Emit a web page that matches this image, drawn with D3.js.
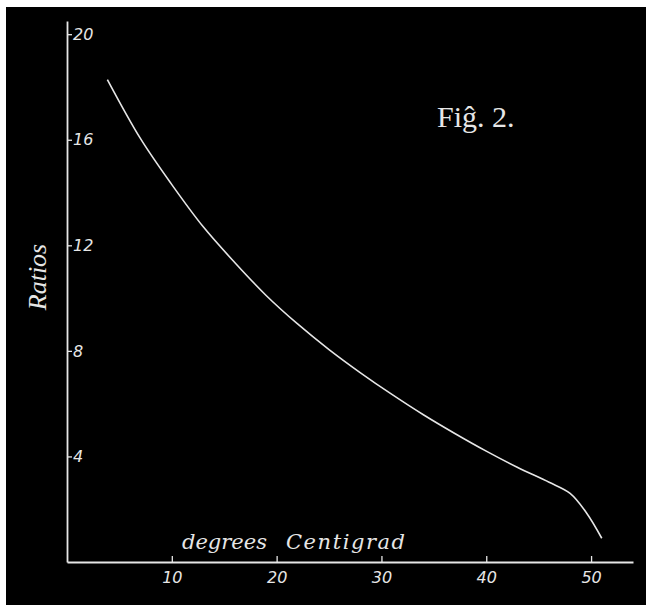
<!DOCTYPE html>
<html>
<head>
<meta charset="utf-8">
<script src="https://cdn.jsdelivr.net/npm/d3@7"></script>
<style>
  body { margin: 0; background: #fff; }
  svg { display: block; }
</style>
</head>
<body>
<script>
// Temperature (deg C) vs ratio
var temps  = [3.85, 7, 10, 13, 16, 19, 22, 25, 28, 31, 34, 37, 40, 43, 46, 48, 49.6, 51.02];
var ratios = [18.28, 16.05, 14.3, 12.7, 11.35, 10.1, 9.02, 8.05, 7.17, 6.35, 5.58, 4.87, 4.2, 3.58, 3.02, 2.6, 1.84, 0.9];

var xTicks = [10, 20, 30, 40, 50];
var yTicks = [4, 8, 12, 16, 20];

var w = 646, h = 605;

var svg = d3.select("body").append("svg")
    .attr("width", w)
    .attr("height", h);

// black plate, thin white margin top/left
svg.append("rect")
    .attr("x", 6).attr("y", 7)
    .attr("width", w - 6).attr("height", h - 7)
    .attr("fill", "#000");

var x = d3.scaleLinear().domain([0, 54]).range([67, 633]);
var y = d3.scaleLinear().domain([0, 20.5]).range([562, 21]);

var ink = "#e6e6e6";

// x axis, ticks pointing up
var xAxis = svg.append("g")
    .attr("transform", "translate(0," + y(0) + ")")
    .call(d3.axisBottom(x).tickValues(xTicks).tickSize(-6).tickSizeOuter(0).tickPadding(10));

// y axis, ticks pointing in
var yAxis = svg.append("g")
    .attr("transform", "translate(" + x(0) + ",0)")
    .call(d3.axisRight(y).tickValues(yTicks).tickSize(5).tickSizeOuter(0).tickPadding(1));

[xAxis, yAxis].forEach(function(g) {
  g.attr("font-family", "DejaVu Sans").attr("font-size", 16);
  g.select(".domain").attr("stroke", ink).attr("stroke-width", 1.8);
  g.selectAll(".tick line").attr("stroke", ink).attr("stroke-width", 1.3);
  g.selectAll(".tick text")
      .attr("fill", ink)
      .attr("font-style", "italic")
      .attr("font-weight", 300);
});

// curve
var pts = temps.map(function(t, i) { return [t, ratios[i]]; });
var line = d3.line()
    .x(function(d) { return x(d[0]); })
    .y(function(d) { return y(d[1]); })
    .curve(d3.curveCatmullRom.alpha(0.5));

svg.append("path")
    .datum(pts)
    .attr("d", line)
    .attr("fill", "none")
    .attr("stroke", ink)
    .attr("stroke-width", 1.6);

// labels
var xl = svg.append("g")
    .attr("fill", ink)
    .attr("font-family", "DejaVu Serif")
    .attr("font-style", "italic")
    .attr("font-size", 21);
xl.append("text").attr("x", 182).attr("y", 549).text("degrees");
xl.append("text").attr("x", 286).attr("y", 549)
    .attr("textLength", 119).attr("lengthAdjust", "spacing")
    .text("Centigrad");

svg.append("text")
    .attr("transform", "translate(46,277) rotate(-90)")
    .attr("text-anchor", "middle")
    .attr("fill", ink)
    .attr("font-family", "Liberation Serif")
    .attr("font-style", "italic")
    .attr("font-size", 26)
    .text("Ratios");

svg.append("text")
    .attr("x", 437).attr("y", 127)
    .attr("fill", ink)
    .attr("font-family", "Liberation Serif")
    .attr("font-size", 30)
    .text("Fiĝ. 2.");
</script>
</body>
</html>
